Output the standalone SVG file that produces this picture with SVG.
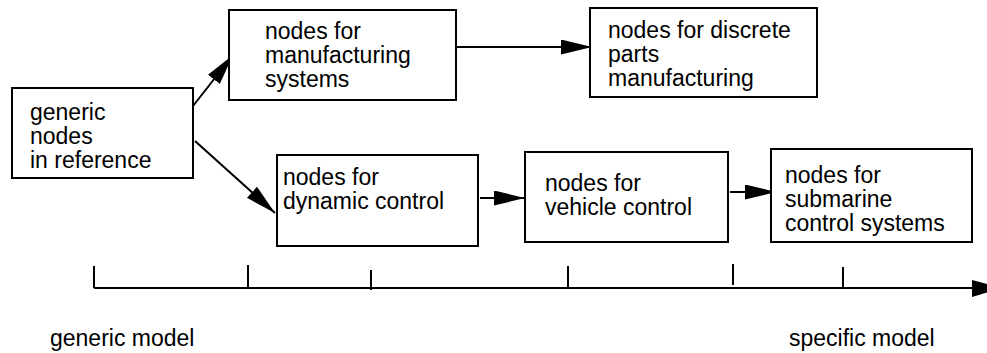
<svg xmlns="http://www.w3.org/2000/svg" width="987" height="353" viewBox="0 0 987 353">
  <style>
    .box { fill: #fff; stroke: #000; stroke-width: 2; }
    .lbl { font-family: "Liberation Sans", Arial, sans-serif; font-size: 23px; fill: #000; }
    .edge { stroke: #000; stroke-width: 2; fill: none; }
  </style>
  <defs>
    <marker id="head" markerUnits="userSpaceOnUse" markerWidth="32" markerHeight="16" refX="31" refY="7.5" orient="auto">
      <path d="M0,0 L31,7.5 L0,15 z" fill="#000"/>
    </marker>
  </defs>

  <rect width="987" height="353" fill="#fff"/>

  <!-- connectors -->
  <g id="connectors">
    <line class="edge" x1="193" y1="106" x2="233" y2="55" marker-end="url(#head)"/>
    <line class="edge" x1="195" y1="141" x2="275" y2="213" marker-end="url(#head)"/>
    <line class="edge" x1="456" y1="47" x2="592" y2="47" marker-end="url(#head)"/>
    <line class="edge" x1="480" y1="198" x2="525" y2="198" marker-end="url(#head)"/>
    <line class="edge" x1="730" y1="192" x2="776" y2="192" marker-end="url(#head)"/>
  </g>

  <!-- nodes -->
  <g id="generic">
    <rect class="box" x="12" y="88" width="181" height="90"/>
    <text class="lbl" x="30" y="120">generic</text>
    <text class="lbl" x="30" y="144">nodes</text>
    <text class="lbl" x="30" y="168">in reference</text>
  </g>
  <g id="manufacturing">
    <rect class="box" x="229" y="10" width="227" height="90"/>
    <text class="lbl" x="265" y="39">nodes for</text>
    <text class="lbl" x="265" y="63">manufacturing</text>
    <text class="lbl" x="265" y="87">systems</text>
  </g>
  <g id="discrete">
    <rect class="box" x="590" y="8" width="227" height="89"/>
    <text class="lbl" x="608" y="38">nodes for discrete</text>
    <text class="lbl" x="608" y="62">parts</text>
    <text class="lbl" x="608" y="86">manufacturing</text>
  </g>
  <g id="dynamic">
    <rect class="box" x="277" y="155" width="201" height="91"/>
    <text class="lbl" x="283" y="185">nodes for</text>
    <text class="lbl" x="283" y="209">dynamic control</text>
  </g>
  <g id="vehicle">
    <rect class="box" x="525" y="152" width="203" height="90"/>
    <text class="lbl" x="545" y="191">nodes for</text>
    <text class="lbl" x="545" y="215">vehicle control</text>
  </g>
  <g id="submarine">
    <rect class="box" x="771" y="149" width="201" height="93"/>
    <text class="lbl" x="785" y="183">nodes for</text>
    <text class="lbl" x="785" y="207">submarine</text>
    <text class="lbl" x="785" y="231">control systems</text>
  </g>

  <!-- generic-to-specific scale -->
  <g id="scale">
    <line class="edge" x1="94" y1="288" x2="975" y2="288"/>
    <polygon points="972,280 972,297 1002,288" fill="#000"/>
    <line class="edge" x1="94" y1="266" x2="94" y2="288"/>
    <line class="edge" x1="248" y1="265" x2="248" y2="288"/>
    <line class="edge" x1="371" y1="270" x2="371" y2="290"/>
    <line class="edge" x1="568" y1="266" x2="568" y2="288"/>
    <line class="edge" x1="733" y1="264" x2="733" y2="285"/>
    <line class="edge" x1="843" y1="267" x2="843" y2="288"/>
    <text class="lbl" x="50" y="346">generic model</text>
    <text class="lbl" x="789" y="346">specific model</text>
  </g>
</svg>
